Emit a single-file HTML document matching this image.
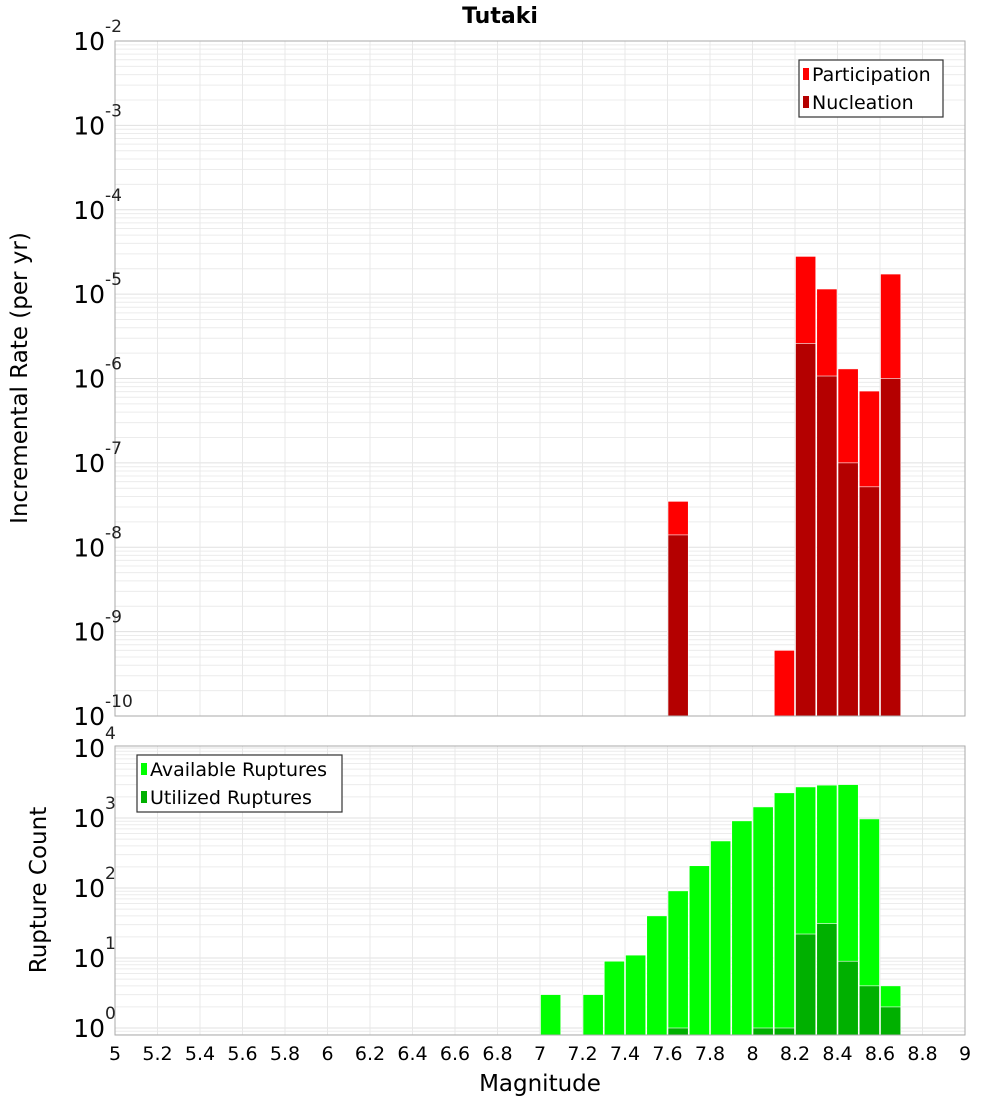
<!DOCTYPE html>
<html><head><meta charset="utf-8"><style>
body{margin:0;background:#fff;font-family:"DejaVu Sans","Liberation Sans",sans-serif}
svg text{font-family:"DejaVu Sans","Liberation Sans",sans-serif}
</style></head><body>
<svg id="c" width="1000" height="1100" xmlns="http://www.w3.org/2000/svg"></svg>
<script>
const binCenters=[7.65,8.15,8.25,8.35,8.45,8.55,8.65];
const participation=[3.5e-8,6e-10,2.8e-5,1.15e-5,1.3e-6,7.1e-7,1.73e-5];
const nucleation=[1.4e-8,0,2.6e-6,1.07e-6,1.0e-7,5.2e-8,1.0e-6];
const countCenters=[7.05,7.25,7.35,7.45,7.55,7.65,7.75,7.85,7.95,8.05,8.15,8.25,8.35,8.45,8.55,8.65];
const available=[3,3,9,11,40,91,208,470,910,1440,2290,2780,2950,3000,970,4];
const utilized=[0,0,0,0,0,1,0,0,0,1,1,22,31,9,4,2];
const xTicks=[5,5.2,5.4,5.6,5.8,6,6.2,6.4,6.6,6.8,7,7.2,7.4,7.6,7.8,8,8.2,8.4,8.6,8.8,9];
const topExps=[-10,-9,-8,-7,-6,-5,-4,-3,-2];
const botExps=[0,1,2,3,4];

const S=document.getElementById('c');const NS='http://www.w3.org/2000/svg';
function mk(t,a,p){const e=document.createElementNS(NS,t);for(const k in a)e.setAttribute(k,a[k]);(p||S).appendChild(e);return e;}
const X0=115,X1=965;
const xs=v=>X0+(v-5)/(4)*(X1-X0);
const T0=41,T1=716,yT=v=>T1-(Math.log10(v)+10)*(T1-T0)/8;
const B0=746,B1=1035,yB=v=>1028-Math.log10(v)*70;

function grid(top,bot,yf,lo,hi,name){
  const g=mk('g',{});
  for(let e=lo;e<=hi;e++)for(let m=1;m<10;m++){const v=m*Math.pow(10,e);const y=yf(v);if(y<top||y>bot)continue;
    mk('line',{x1:X0,x2:X1,y1:y,y2:y,stroke:m==1?'#e0e0e0':'#ececec','stroke-width':1},g);}
  xTicks.forEach(t=>{const x=xs(t);mk('line',{x1:x,x2:x,y1:top,y2:bot,stroke:'#e8e8e8','stroke-width':1},g);});
}
grid(T0,T1,yT,-10,-2,'top-grid');grid(B0,B1,yB,-1,4,'bottom-grid');

const bw=(xs(5.1)-xs(5));
function bar(c,v,yf,bot,col,name){if(!v)return;const y=yf(v);const r=mk('rect',{x:xs(c)-bw/2+0.5,y:y,width:bw-1,height:bot-y,fill:col,stroke:'#fff','stroke-width':0.6});
  }
binCenters.forEach((c,i)=>{bar(c,participation[i],yT,T1,'#ff0000','participation-bar');bar(c,nucleation[i],yT,T1,'#b40000','nucleation-bar');});
countCenters.forEach((c,i)=>{bar(c,available[i],yB,B1,'#00ff00','available-bar');bar(c,utilized[i],yB,B1,'#00b000','utilized-bar');});

mk('rect',{x:X0,y:T0,width:X1-X0,height:T1-T0,fill:'none',stroke:'#aaa','stroke-width':1,});
mk('rect',{x:X0,y:B0,width:X1-X0,height:B1-B0,fill:'none',stroke:'#aaa','stroke-width':1,});

function txt(x,y,s,a,name){const t=mk('text',Object.assign({x:x,y:y},a));t.textContent=s;return t;}
function powLabel(y,e,name){txt(105,y+9,'10',{'font-size':25,'text-anchor':'end',fill:'#000'},name);
  txt(105,y-9,String(e),{'font-size':17,'text-anchor':'start',fill:'#222'},name+'-exp');}
topExps.forEach(e=>powLabel(yT(Math.pow(10,e)),e,'top-y-tick'));
botExps.forEach(e=>powLabel(yB(Math.pow(10,e)),e,'bottom-y-tick'));
xTicks.forEach(t=>txt(xs(t),1060,String(t),{'font-size':19,'text-anchor':'middle'},'x-tick'));

txt(500,23,'Tutaki',{'font-size':22,'font-weight':'bold','text-anchor':'middle'},'chart-title');
txt(540,1091,'Magnitude',{'font-size':23,'text-anchor':'middle'},'x-axis-title');
txt(0,0,'Incremental Rate (per yr)',{'font-size':23,'text-anchor':'middle',transform:'translate(27,378) rotate(-90)'},'top-y-axis-title');
txt(0,0,'Rupture Count',{'font-size':23,'text-anchor':'middle',transform:'translate(46,890) rotate(-90)'},'bottom-y-axis-title');

function legend(x,y,w,items,name){const g=mk('g',{});
  mk('rect',{x:x,y:y,width:w,height:57,fill:'#fff',stroke:'#333','stroke-width':1.2},g);
  items.forEach((it,i)=>{const cy=y+14+i*28;mk('rect',{x:x+4,y:cy-6,width:6,height:12,fill:it[1]},g);
    const t=mk('text',{x:x+13,y:cy+7,'font-size':19},g);t.textContent=it[0];});}
legend(799,60,144,[['Participation','#ff0000'],['Nucleation','#b40000']],'top-legend');
legend(137,755,205,[['Available Ruptures','#00ff00'],['Utilized Ruptures','#00b000']],'bottom-legend');
</script>
</body></html>
